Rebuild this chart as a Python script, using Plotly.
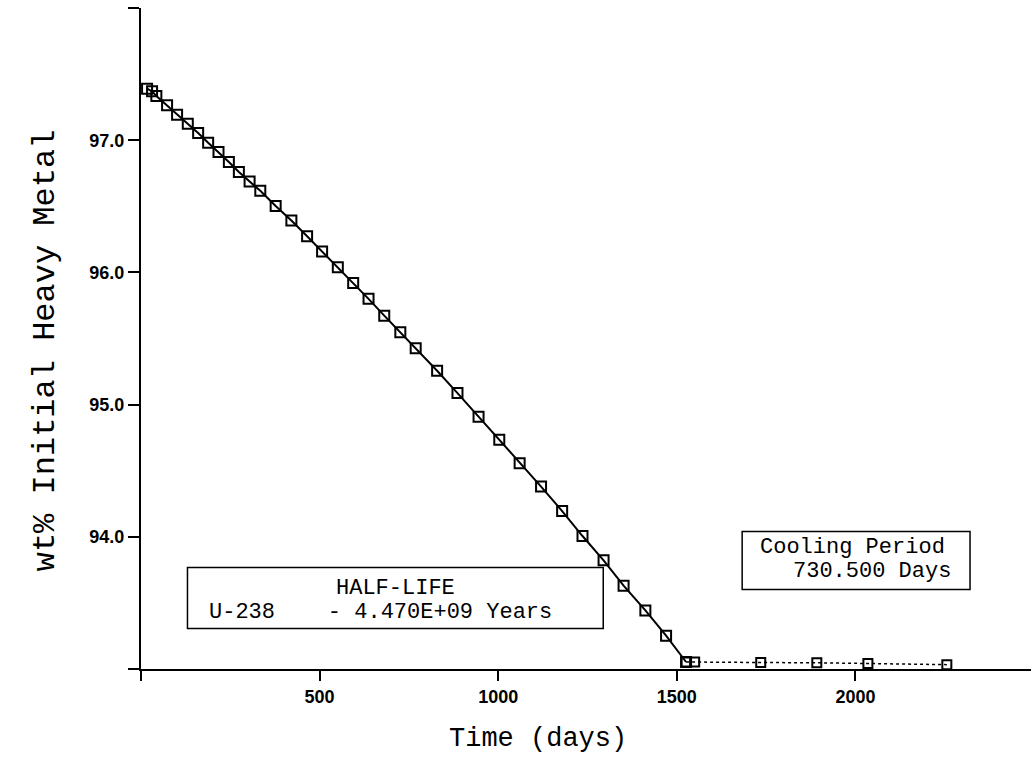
import plotly.graph_objects as go

# ---- data ----
days_irr = [17, 31, 43, 73, 101, 131, 160, 188, 217, 246,
            274, 304, 334, 377, 421, 465, 507, 551, 594, 637,
            681, 726, 769, 829, 886, 945, 1003, 1060, 1120, 1179,
            1236, 1295, 1351, 1412, 1470, 1526]
wt_irr = [97.39, 97.37, 97.335, 97.265, 97.193, 97.125, 97.055, 96.981, 96.911, 96.835,
          96.759, 96.688, 96.617, 96.502, 96.392, 96.273, 96.158, 96.039, 95.92, 95.80,
          95.673, 95.547, 95.426, 95.256, 95.087, 94.909, 94.735, 94.557, 94.38, 94.195,
          94.006, 93.822, 93.63, 93.443, 93.252, 93.053]
days_cool = [1526, 1550, 1735, 1892, 2035, 2256]
wt_cool = [93.053, 93.053, 93.049, 93.047, 93.042, 93.033]

x_ticks = [0, 500, 1000, 1500, 2000]
x_ticktext = ["", "500", "1000", "1500", "2000"]
y_ticks = [93, 94, 95, 96, 97, 98]
y_ticktext = ["", "94.0", "95.0", "96.0", "97.0", ""]

W, H = 1031, 759
L, R, T, B = 140.5, 0, 8, 89.5
PW, PH = W - L - R, H - T - B

def px(x):
    return (x - L) / PW

def py(y):
    return (H - B - y) / PH

MONO = "Liberation Mono"
TICKFONT = dict(family="Liberation Sans", size=18, color="black", weight="bold")

fig = go.Figure()
fig.add_trace(go.Scatter(
    x=days_irr, y=wt_irr, mode="lines+markers",
    line=dict(color="black", width=2),
    marker=dict(symbol="square-open", size=10, color="black", line=dict(width=2)),
    showlegend=False))
fig.add_trace(go.Scatter(
    x=days_cool, y=wt_cool, mode="lines+markers",
    line=dict(color="black", width=1.5, dash="dot"),
    marker=dict(symbol="square-open", size=9, color="black", line=dict(width=2)),
    showlegend=False))

fig.update_layout(
    width=W, height=H,
    margin=dict(l=L, r=R, t=T, b=B, pad=0),
    plot_bgcolor="white", paper_bgcolor="white",
    xaxis=dict(range=[0, PW / 0.3574], showgrid=False, zeroline=False,
               showline=True, linecolor="black", linewidth=2,
               tickvals=x_ticks, ticktext=x_ticktext, ticks="outside",
               ticklen=10, tickwidth=2, tickcolor="black", tickfont=TICKFONT),
    yaxis=dict(range=[93.0, 98.0], showgrid=False, zeroline=False,
               showline=True, linecolor="black", linewidth=2,
               tickvals=y_ticks, ticktext=y_ticktext, ticks="outside",
               ticklen=11, tickwidth=2, tickcolor="black", tickfont=TICKFONT),
)

def note(text, x, y, size=22, xanchor="center", angle=0):
    return dict(text=text, x=px(x), y=py(y), xref="paper", yref="paper",
                xanchor=xanchor, yanchor="middle", showarrow=False, textangle=angle,
                font=dict(family=MONO, size=size, color="black"))

ann = [
    note("Time (days)", 538, 740, size=27),
    note("wt% Initial Heavy Metal", 45, 351, size=32, angle=-90),
    note("HALF-LIFE", 395, 589),
    note("U-238    - 4.470E+09 Years", 207, 613, xanchor="left"),
    note("Cooling Period", 852, 548),
    note("730.500 Days", 953, 572, xanchor="right"),
]
fig.update_layout(annotations=ann)

fig.add_shape(type="rect", xref="paper", yref="paper",
              x0=px(187), x1=px(603), y0=py(629), y1=py(568),
              line=dict(color="black", width=1.5))
fig.add_shape(type="rect", xref="paper", yref="paper",
              x0=px(742), x1=px(970), y0=py(590), y1=py(532),
              line=dict(color="black", width=1.5))

fig.write_html("out.html", config={"displayModeBar": False},
               post_script="document.body.style.margin='0';")
